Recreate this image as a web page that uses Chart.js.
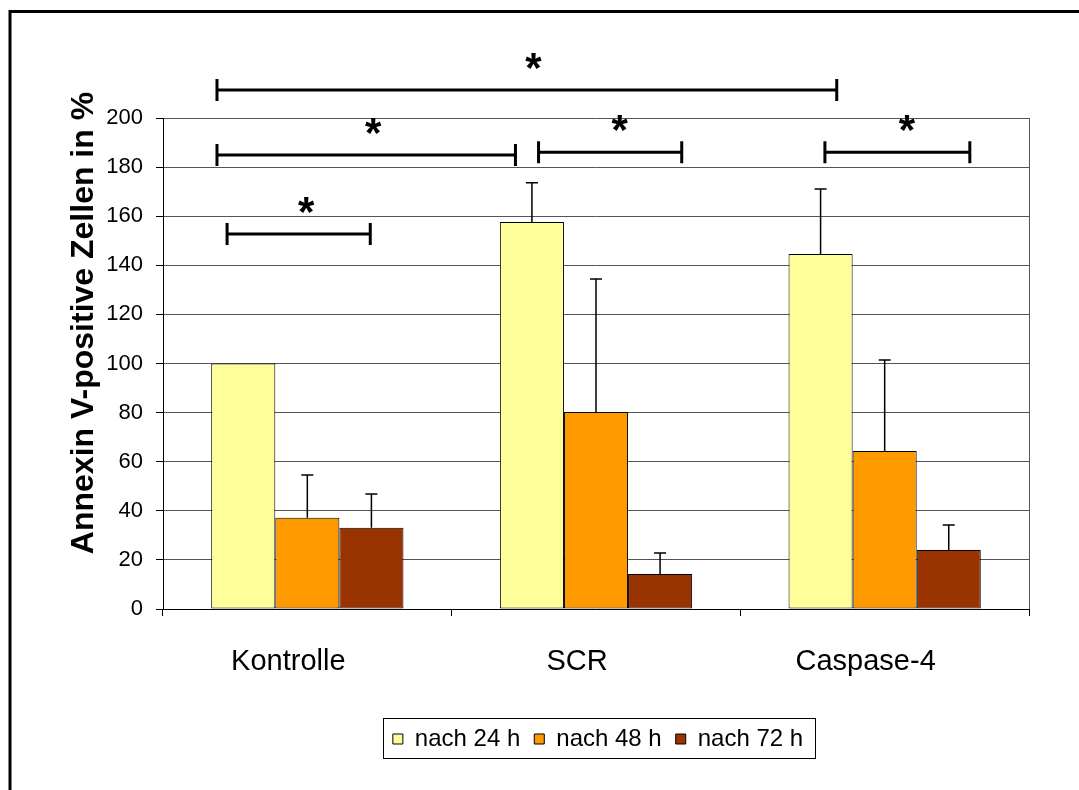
<!DOCTYPE html>
<html><head><meta charset="utf-8">
<script src="https://cdn.jsdelivr.net/npm/chart.js@4.4.0/dist/chart.umd.min.js"></script>
<style>html,body{margin:0;padding:0;background:#fff;} canvas{display:block;}</style>
</head><body>
<canvas id="c" width="1079" height="790"></canvas>
<script>
// ---- data ----
const categories = ['Kontrolle', 'SCR', 'Caspase-4'];
const seriesLabels = ['nach 24 h', 'nach 48 h', 'nach 72 h'];
const values24 = [100, 157.6, 144.6];
const values48 = [37.2, 80.2, 64.4];
const values72 = [33.1, 14.3, 24.0];
const errors24 = [0, 16.0, 26.5];
const errors48 = [17.4, 54.2, 37.0];
const errors72 = [13.7, 8.5, 10.2];
const axisTitle = 'Annexin V-positive Zellen in %';
// significance brackets (category-axis positions, value-axis level)
const bracketFrom = [-0.313, -0.313, 0.801, 1.793, -0.278];
const bracketTo = [1.834, 0.721, 1.297, 2.295, 0.218];
const bracketLevel = [211.4, 184.9, 186.0, 186.0, 152.7];
const starAt = [0.783, 0.228, 1.082, 2.077, -0.004];
const starLabel = ['*', '*', '*', '*', '*'];

const colors = ['#FFFF99', '#FF9900', '#993300'];
const FONT = "'Liberation Sans', Arial, sans-serif";
const allValues = [values24, values48, values72];
const allErrors = [errors24, errors48, errors72];

const decoPlugin = {
  id: 'deco',
  afterLayout(chart) {
    const ca = chart.chartArea, lg = chart.legend;
    if (lg) {
      const shift = (ca.left + ca.right) / 2 + 2 - (lg.left + lg.right) / 2;
      lg.left += shift; lg.right += shift;
    }
  },
  afterDatasetsDraw(chart) {
    const ctx = chart.ctx;
    const ys = chart.scales.y, xs = chart.scales.x;
    ctx.save();
    // error bars (upper only)
    ctx.strokeStyle = '#000'; ctx.lineWidth = 1.5;
    allValues.forEach((vals, i) => {
      const meta = chart.getDatasetMeta(i);
      meta.data.forEach((el, j) => {
        const e = allErrors[i][j];
        if (!e) return;
        const yTop = ys.getPixelForValue(vals[j] + e);
        ctx.beginPath();
        ctx.moveTo(el.x, el.y); ctx.lineTo(el.x, yTop);
        ctx.moveTo(el.x - 6, yTop); ctx.lineTo(el.x + 6, yTop);
        ctx.stroke();
      });
    });
    // right frame line of plot area
    const ca = chart.chartArea;
    ctx.strokeStyle = '#555'; ctx.lineWidth = 1;
    ctx.beginPath(); ctx.moveTo(ca.right + 0.5, ca.top); ctx.lineTo(ca.right + 0.5, ca.bottom); ctx.stroke();
    // significance brackets
    ctx.strokeStyle = '#000'; ctx.lineWidth = 3; ctx.lineCap = 'butt';
    ctx.fillStyle = '#000';
    ctx.font = 'bold 42px ' + FONT;
    ctx.textAlign = 'center'; ctx.textBaseline = 'alphabetic';
    bracketFrom.forEach((f, k) => {
      const x1 = xs.getPixelForValue(f), x2 = xs.getPixelForValue(bracketTo[k]);
      const y = ys.getPixelForValue(bracketLevel[k]);
      ctx.beginPath();
      ctx.moveTo(x1, y); ctx.lineTo(x2, y);
      ctx.moveTo(x1, y - 11); ctx.lineTo(x1, y + 11);
      ctx.moveTo(x2, y - 11); ctx.lineTo(x2, y + 11);
      ctx.stroke();
      ctx.fillText(starLabel[k], xs.getPixelForValue(starAt[k]), y - 8);
    });
    ctx.restore();
  },
  afterDraw(chart) {
    const ctx = chart.ctx;
    ctx.save();
    // axis title
    ctx.fillStyle = '#000';
    ctx.font = 'bold 32px ' + FONT;
    ctx.textAlign = 'center'; ctx.textBaseline = 'middle';
    ctx.translate(84, chart.chartArea.top + 205);
    ctx.rotate(-Math.PI / 2);
    ctx.fillText(axisTitle, 0, 0);
    ctx.restore();
    // legend frame
    const lg = chart.legend;
    if (lg && lg.legendHitBoxes && lg.legendHitBoxes.length) {
      const hb = lg.legendHitBoxes, a = hb[0], b = hb[hb.length - 1];
      ctx.save();
      ctx.strokeStyle = '#000'; ctx.lineWidth = 1;
      const l = Math.round(a.left - 10) + 0.5, r = Math.round(b.left + b.width + 12) + 0.5;
      const t = Math.round(a.top - 9) + 0.5, btm = Math.round(a.top + a.height + 7) + 0.5;
      ctx.strokeRect(l, t, r - l, btm - t);
      ctx.restore();
    }
    // outer frame
    ctx.save();
    ctx.strokeStyle = '#000'; ctx.lineWidth = 3;
    ctx.strokeRect(10, 11.5, 1200, 1000);
    ctx.restore();
  }
};

new Chart(document.getElementById('c'), {
  type: 'bar',
  data: {
    labels: categories,
    datasets: allValues.map((v, i) => ({
      label: seriesLabels[i],
      data: v,
      backgroundColor: colors[i],
      borderColor: '#000',
      borderWidth: 1,
      borderSkipped: false,
      categoryPercentage: 0.666,
      barPercentage: 1.0
    }))
  },
  options: {
    responsive: false,
    animation: false,
    devicePixelRatio: 1,
    layout: { padding: { left: 0, right: 50, top: 118, bottom: 29 } },
    plugins: {
      tooltip: { enabled: false },
      legend: {
        position: 'bottom',
        labels: {
          boxWidth: 10, boxHeight: 10, padding: 14,
          color: '#000', font: { family: FONT, size: 24 }
        }
      }
    },
    scales: {
      x: {
        grid: { display: true, drawOnChartArea: false, drawTicks: true, tickLength: 7, color: '#000', offset: true },
        border: { display: true, color: '#000', width: 1 },
        ticks: { color: '#000', font: { family: FONT, size: 29 }, padding: 29, maxRotation: 0, labelOffset: -19 },
        afterFit(s) {
          const lh = s.chart.legend ? s.chart.legend.height : 0;
          s.height = 790 - 29 - lh - 609;
        }
      },
      y: {
        min: 0, max: 200,
        ticks: { stepSize: 20, color: '#000', font: { family: FONT, size: 22 }, padding: 13 },
        grid: { color: '#555', lineWidth: 1, drawTicks: true, tickLength: 7, tickColor: '#000' },
        border: { display: true, color: '#000', width: 1 },
        afterFit(s) { s.width = 163; }
      }
    }
  },
  plugins: [decoPlugin]
});
</script>
</body></html>
